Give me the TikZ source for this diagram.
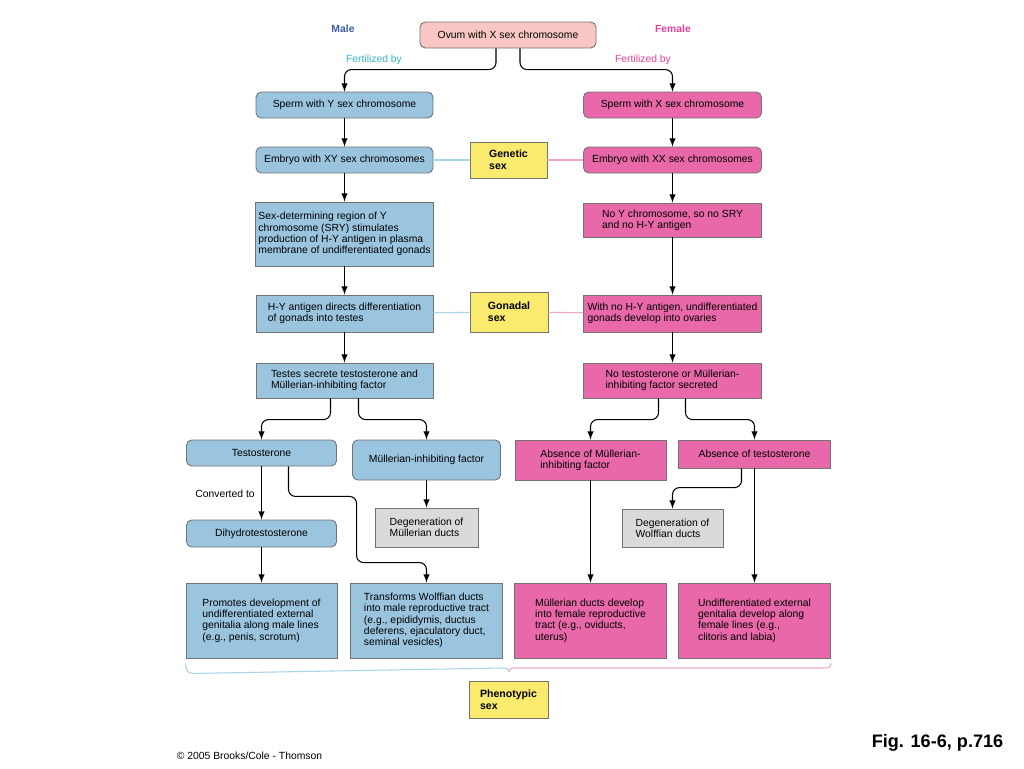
\documentclass[tikz,border=0pt]{standalone}
\usepackage{fontspec}
\setmainfont{Liberation Sans}
\usetikzlibrary{calc}
\usetikzlibrary{arrows.meta}
\tikzset{>=latex}

\definecolor{maleblue}{HTML}{9BC5DE}
\definecolor{femalepink}{HTML}{E868A9}
\definecolor{ovumpink}{HTML}{F8C7C3}
\definecolor{sexyellow}{HTML}{FAEA6E}
\definecolor{deggray}{HTML}{D9DADC}
\definecolor{maletext}{HTML}{3A5BA8}
\definecolor{femtext}{HTML}{E6419A}
\definecolor{fertcyan}{HTML}{35B5CB}
\definecolor{lineblue}{HTML}{A9D4EA}
\definecolor{linepink}{HTML}{F2A6C9}

\tikzset{
  box/.style={draw=black!55, line width=0.5pt, inner sep=1pt, align=left,
    font=\fontsize{5.9}{6.4}\selectfont},
  malebox/.style={box, fill=maleblue},
  maleboxr/.style={malebox, rounded corners=3pt},
  fembox/.style={box, fill=femalepink},
  femboxr/.style={fembox, rounded corners=3pt},
  sexbox/.style={box, fill=sexyellow, font=\fontsize{6}{6.6}\selectfont\bfseries},
  degbox/.style={box, fill=deggray},
  arr/.style={->, line width=0.6pt, rounded corners=4pt},
}

\begin{document}
\begin{tikzpicture}[x=0.02cm, y=-0.02cm]
\useasboundingbox (0,0) rectangle (1024,768);

% top
\node[box, fill=ovumpink, rounded corners=3pt, minimum width=176*0.02cm, minimum height=26*0.02cm] (ovum) at (508,35) {Ovum with X sex chromosome};
\node[font=\fontsize{5.9}{6}\selectfont\bfseries, text=maletext] (male) at (343,29) {Male};
\node[font=\fontsize{5.9}{6}\selectfont\bfseries, text=femtext] (female) at (673,29) {Female};
\node[font=\fontsize{5.9}{6}\selectfont, text=fertcyan] (fertY) at (374,60) {Fertilized by};
\node[font=\fontsize{5.9}{6}\selectfont, text=femtext] (fertX) at (643,60) {Fertilized by};

% male column
\node[maleboxr, minimum width=177*0.02cm, minimum height=26*0.02cm] (spermY) at (344.5,105) {Sperm with Y sex chromosome};
\node[maleboxr, minimum width=177*0.02cm, minimum height=26*0.02cm] (embXY) at (344.5,160) {Embryo with XY sex chromosomes};
\node[malebox, minimum width=178*0.02cm, minimum height=64*0.02cm] (sry) at (344.5,234) {Sex-determining region of Y\\chromosome (SRY) stimulates\\production of H-Y antigen in plasma\\membrane of undifferentiated gonads};
\node[malebox, minimum width=177*0.02cm, minimum height=37*0.02cm] (hy) at (344.5,313.5) {H-Y antigen directs differentiation\\of gonads into testes};
\node[malebox, minimum width=177*0.02cm, minimum height=35*0.02cm] (testes) at (344.5,380.5) {Testes secrete testosterone and\\M\"ullerian-inhibiting factor};

% female column
\node[femboxr, minimum width=178*0.02cm, minimum height=26*0.02cm] (spermX) at (672.5,105) {Sperm with X sex chromosome};
\node[femboxr, minimum width=178*0.02cm, minimum height=26*0.02cm] (embXX) at (672.5,160) {Embryo with XX sex chromosomes};
\node[fembox, minimum width=178*0.02cm, minimum height=34*0.02cm] (noY) at (672.5,220) {No Y chromosome, so no SRY\\and no H-Y antigen};
\node[fembox, minimum width=178*0.02cm, minimum height=37*0.02cm] (noHY) at (672.5,313.5) {With no H-Y antigen, undifferentiated\\gonads develop into ovaries};
\node[fembox, minimum width=178*0.02cm, minimum height=35*0.02cm] (noT) at (672.5,380.5) {No testosterone or M\"ullerian-\\inhibiting factor secreted};

% sex boxes
\node[sexbox, minimum width=77*0.02cm, minimum height=36*0.02cm] (genetic) at (508.5,160) {Genetic\\sex};
\node[sexbox, minimum width=78*0.02cm, minimum height=40*0.02cm] (gonadal) at (509,312) {Gonadal\\sex};
\node[sexbox, minimum width=79*0.02cm, minimum height=37*0.02cm] (pheno) at (508.5,699.5) {Phenotypic\\sex};

% lower male part
\node[maleboxr, minimum width=150*0.02cm, minimum height=26*0.02cm] (testo) at (261.5,453) {Testosterone};
\node[maleboxr, minimum width=148*0.02cm, minimum height=40*0.02cm] (mif) at (426.5,460) {M\"ullerian-inhibiting factor};
\node[maleboxr, minimum width=150*0.02cm, minimum height=27*0.02cm] (dht) at (261.5,533.5) {Dihydrotestosterone};
\node[degbox, minimum width=103*0.02cm, minimum height=39*0.02cm] (degM) at (426.5,527.5) {Degeneration of\\M\"ullerian ducts};
\node[font=\fontsize{5.9}{6}\selectfont] (conv) at (225,494) {Converted to};
\node[malebox, minimum width=151*0.02cm, minimum height=75*0.02cm] (promotes) at (261.5,620.5) {Promotes development of\\undifferentiated external\\genitalia along male lines\\(e.g., penis, scrotum)};
\node[malebox, minimum width=152*0.02cm, minimum height=75*0.02cm] (transforms) at (426.5,620.5) {Transforms Wolffian ducts\\into male reproductive tract\\(e.g., epididymis, ductus\\deferens, ejaculatory duct,\\seminal vesicles)};

% lower female part
\node[fembox, minimum width=151*0.02cm, minimum height=40*0.02cm] (absM) at (590.5,460) {Absence of M\"ullerian-\\inhibiting factor};
\node[fembox, minimum width=152*0.02cm, minimum height=28*0.02cm] (absT) at (754.5,454) {Absence of testosterone};
\node[degbox, minimum width=101*0.02cm, minimum height=38*0.02cm] (degW) at (672.5,528) {Degeneration of\\Wolffian ducts};
\node[fembox, minimum width=152*0.02cm, minimum height=75*0.02cm] (mdev) at (590.5,620.5) {M\"ullerian ducts develop\\into female reproductive\\tract (e.g., oviducts,\\uterus)};
\node[fembox, minimum width=152*0.02cm, minimum height=75*0.02cm] (fdev) at (754.5,620.5) {Undifferentiated external\\genitalia develop along\\female lines (e.g.,\\clitoris and labia)};

% connectors
\draw[arr] ($(ovum.south)+(-12,0)$) |- ($(spermY.north)+(0,-22)$) -- (spermY.north);
\draw[arr] ($(ovum.south)+(12,0)$) |- ($(spermX.north)+(0,-22)$) -- (spermX.north);
\draw[arr] (spermY) -- (embXY);
\draw[arr] (embXY) -- (sry);
\draw[arr] (sry) -- (hy);
\draw[arr] (hy) -- (testes);
\draw[arr] (spermX) -- (embXX);
\draw[arr] (embXX) -- (noY);
\draw[arr] (noY) -- (noHY);
\draw[arr] (noHY) -- (noT);
\draw[lineblue, line width=0.6pt] (embXY) -- (genetic);
\draw[linepink, line width=0.6pt] (genetic) -- (embXX);
\draw[lineblue, line width=0.6pt] (hy) -- (gonadal);
\draw[linepink, line width=0.6pt] (gonadal) -- (noHY);

\draw[arr] ($(testes.south)+(-14,0)$) |- ($(testo.north)+(0,-20)$) -- (testo.north);
\draw[arr] ($(testes.south)+(14,0)$) |- ($(mif.north)+(0,-20)$) -- (mif.north);
\draw[arr] ($(noT.south)+(-14,0)$) |- ($(absM.north)+(0,-20)$) -- (absM.north);
\draw[arr] ($(noT.south)+(13,0)$) |- ($(absT.north)+(0,-20)$) -- (absT.north);

\draw[arr] (testo) -- (dht);
\draw[arr] ($(testo.south)+(27,0)$) |- ($(degM.south west)+(-18,-51)$) |- ($(transforms.north)+(0,-20)$) -- (transforms.north);
\draw[arr] (mif) -- (degM);
\draw[arr] (dht) -- (promotes);
\draw[arr] (absM) -- (mdev);
\draw[arr] (absT) -- (fdev);
\draw[arr] ($(absT.south)+(-13,0)$) |- ($(degW.north)+(0,-21)$) -- (degW.north);

% brace
\draw[lineblue, line width=0.6pt] (promotes.south west) ++(0,5) .. controls +(0,4) and +(-6,0) .. ++(7,10) -- (503,668) .. controls (507,668) and (509,669) .. (509,672);
\draw[linepink, line width=0.6pt] (509,672) .. controls (509,669) and (511,668) .. (515,668) -- (823,668) .. controls +(6,0) and +(0,4) .. ($(fdev.south east)+(0,5)$);

% footer
\node[font=\fontsize{5.9}{6}\selectfont] (copy) at (249.5,756) {\textcopyright\ 2005 Brooks/Cole - Thomson};
\node[font=\fontsize{10.3}{11}\selectfont\bfseries] (fig) at (937.5,743) {Fig. 16-6, p.716};
\end{tikzpicture}
\end{document}
